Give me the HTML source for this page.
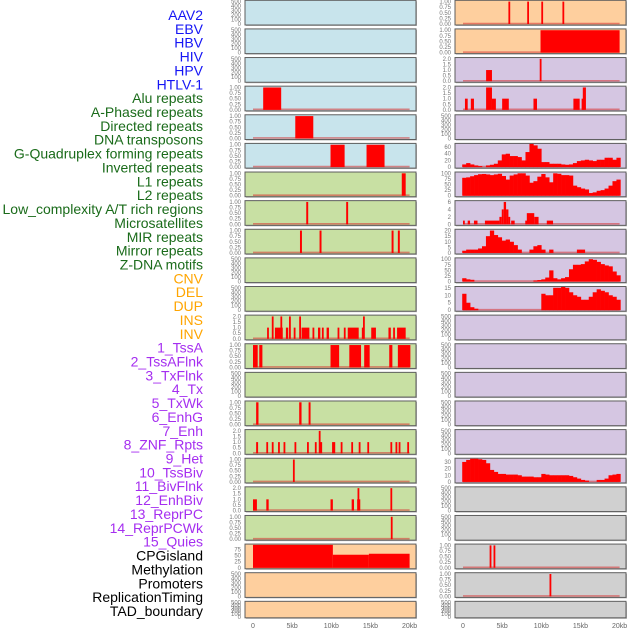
<!DOCTYPE html>
<html><head><meta charset="utf-8"><style>
html,body{margin:0;padding:0;background:#fff;}
svg{display:block;font-family:"Liberation Sans",sans-serif;}
</style></head><body>
<svg id="chart" width="630" height="630" viewBox="0 0 630 630" xmlns="http://www.w3.org/2000/svg"></svg>
<script>
// ---------- data ----------
const labelNames = ["AAV2","EBV","HBV","HIV","HPV","HTLV-1","Alu repeats","A-Phased repeats","Directed repeats","DNA transposons","G-Quadruplex forming repeats","Inverted repeats","L1 repeats","L2 repeats","Low_complexity A/T rich regions","Microsatellites","MIR repeats","Mirror repeats","Z-DNA motifs","CNV","DEL","DUP","INS","INV","1_TssA","2_TssAFlnk","3_TxFlnk","4_Tx","5_TxWk","6_EnhG","7_Enh","8_ZNF_Rpts","9_Het","10_TssBiv","11_BivFlnk","12_EnhBiv","13_ReprPC","14_ReprPCWk","15_Quies","CPGisland","Methylation","Promoters","ReplicationTiming","TAD_boundary"];
const labelGroups = ["v","v","v","v","v","v","r","r","r","r","r","r","r","r","r","r","r","r","r","s","s","s","s","s","c","c","c","c","c","c","c","c","c","c","c","c","c","c","c","o","o","o","o","o"];
const xTickKb = [0,5,10,15,20];
const xTickLabels = ["0","5kb","10kb","15kb","20kb"];
const ticks500 = [0,100,200,300,400,500];
const ticks1 = [0,0.25,0.5,0.75,1];
const ticks2 = [0,0.5,1,1.5,2];

// left column interval series [startKb, endKb, value]
const leftRow3 = [[1.3,3.6,1]];
const leftRow4 = [[5.4,7.7,1]];
const leftRow5 = [[9.9,11.7,1],[14.5,16.8,1]];
const leftRow6 = [[19.0,19.5,1]];
const leftRow7 = [[6.8,7.05,1],[11.9,12.15,1]];
const leftRow8 = [[6.0,6.25,1],[8.5,8.75,1],[17.7,17.95,1],[18.5,18.75,1]];
const leftRow11 = [[1.8,2.0,1],[2.4,2.6,2],[2.8,3.8,1],[3.5,3.7,2],[4.2,4.5,1],[4.6,4.8,2],[5.2,5.4,1],[5.9,6.1,2],[6.2,7.2,1],[7.6,7.8,1],[8.3,8.6,1],[8.8,9.0,1],[9.4,9.7,1],[10.8,11.0,1],[11.6,11.8,1],[12.1,13.5,1],[13.9,14.1,1],[14.05,14.25,2],[15.1,15.7,1],[17.3,17.6,1],[17.9,18.1,1],[18.4,19.5,1]];
const leftRow12 = [[0,0.6,1],[0.8,1.2,1],[9.9,11.0,1],[12.3,13.8,1],[14.2,14.9,1],[17.4,17.8,1],[18.5,20.1,1]];
const leftRow14 = [[0.4,0.7,1],[5.9,6.2,1],[7.1,7.35,1]];
const leftRow15 = [[0.4,0.65,1],[1.7,1.9,1],[2.4,2.6,1],[3.2,3.4,1],[3.9,4.1,1],[5.3,5.5,1],[6.9,7.1,1],[7.9,8.1,1],[8.4,8.6,2],[8.6,8.75,1],[10.1,10.5,1],[11.2,11.4,1],[12.55,12.75,1],[13.5,13.7,1],[14.6,14.8,1],[17.55,17.75,1],[18.2,18.4,1],[18.6,18.8,1],[19.7,19.9,1]];
const leftRow16 = [[5.1,5.3,1]];
const leftRow17 = [[0,0.5,1],[1.7,2.0,1],[9.9,10.2,1],[12.6,12.9,1],[13.3,13.7,1],[13.35,13.55,2],[17.55,17.75,2]];
const leftRow18 = [[17.6,17.8,1]];
const leftRow19 = [[0,10.2,93],[10.2,14.8,53],[14.8,20,57]];

// right column interval series
const rightRow0 = [[5.8,6.0,1],[8.2,8.4,1],[10.0,10.2,1],[12.7,12.9,1]];
const rightRow1 = [[9.9,20,1]];
const rightRow2 = [[2.95,3.7,1],[9.8,10.0,2]];
const rightRow3 = [[0.25,0.6,1],[1.0,1.4,1],[2.95,3.7,2],[3.7,4.2,1],[5.0,5.85,1],[9.0,9.45,1],[14.1,14.9,1],[15.15,15.35,1],[15.3,15.7,2]];
const rightRow7 = [[0,0.2,1],[0.6,0.9,1],[1.4,1.85,1],[2.8,4.65,1],[4.65,4.95,2],[4.95,5.2,4],[5.2,5.5,6],[5.5,5.8,4],[5.8,6.0,2],[6.15,6.6,1],[7.95,8.15,1],[8.15,9.1,3],[9.1,9.65,2],[10.7,11.5,1]];
const rightRow19 = [[3.4,3.6,1],[3.9,4.1,1]];
const rightRow20 = [[11.05,11.25,1]];

// right column histograms (40 bins of 0.5kb)
const gquadHist = [8,12,8,5,3,0,5,7,10,20,38,40,33,33,30,20,45,70,65,55,15,15,10,10,10,8,7,8,12,18,20,22,20,18,22,22,28,28,22,28];
const l1Hist = [80,82,87,92,96,97,95,92,95,98,88,72,90,95,100,100,90,58,65,85,97,82,60,100,98,92,92,90,45,38,32,28,12,15,22,25,32,45,65,72];
const row8Hist = [2,3,3,3,4,6,15,20,16,14,11,12,10,7,3,0,0,3,6,7,3,0,3,0,0,0,0,0,0,3,3,0,0,0,0,0,0,0,0,0];
const zdnaHist = [15,10,8,0,0,0,0,0,0,0,0,0,0,0,0,0,0,0,5,7,10,18,50,15,10,15,20,55,75,75,78,90,100,97,88,78,72,68,45,28];
const row10Hist = [11,5,2,1,0,0,0,0,0,0,0,0,0,0,0,0,0,0,0,0,11,10,10,15,15,16,15,12,10,9,7,7,9,12,14,13,12,10,9,7];
const row16Hist = [30,33,35,35,34,33,28,18,15,12,12,11,11,11,10,8,8,8,7,7,12,11,10,10,10,10,10,9,7,5,3,2,0,0,3,3,5,10,11,12];

// ---------- layout ----------
const C = {blue:"#c8e4ec",green:"#c8e0a3",orange:"#fecf9e",purple:"#d5c6e2",grey:"#d0d0d0"};
const P = (type,data,ticks,ymax,fmt)=>({type,data,ticks,ymax,fmt});
const E = ()=>P("empty",null,ticks500,500,0);
const B1 = d=>P("bars",d,ticks1,1,2);
const B2 = d=>P("bars",d,ticks2,2,1);
const leftPanels = [E(),E(),E(),B1(leftRow3),B1(leftRow4),B1(leftRow5),B1(leftRow6),B1(leftRow7),B1(leftRow8),E(),E(),B2(leftRow11),B1(leftRow12),E(),B1(leftRow14),B2(leftRow15),B1(leftRow16),B2(leftRow17),B1(leftRow18),P("bars",leftRow19,[0,25,50,75],91,0),E(),E()];
const rightPanels = [B1(rightRow0),B1(rightRow1),B2(rightRow2),B2(rightRow3),E(),P("hist",gquadHist,[0,20,40,60],67,0),P("hist",l1Hist,[0,25,50,75,100],100,0),P("bars",rightRow7,[0,2,4,6],6,0),P("hist",row8Hist,[0,5,10,15,20],20,0),P("hist",zdnaHist,[0,25,50,75,100],100,0),P("hist",row10Hist,[0,5,10,15],15,0),E(),E(),E(),E(),E(),P("hist",row16Hist,[0,10,20,30],33.6,0),E(),E(),B1(rightRow19),B1(rightRow20),E()];
const leftColors = i=> i<6?C.blue:(i<19?C.green:C.orange);
const rightColors = i=> i<2?C.orange:(i<17?C.purple:C.grey);

const NS="http://www.w3.org/2000/svg";
const svg=document.getElementById("chart");
function mk(tag,attrs,parent){const e=document.createElementNS(NS,tag);for(const k in attrs)e.setAttribute(k,attrs[k]);(parent||svg).appendChild(e);return e;}

const PX0=[245,455], PW=171, ORIGIN=[253,463], PXKB=7.83;
function xs(col,kb){return ORIGIN[col]+kb*PXKB;}
function rowTop(i){return 0.3+28.62*i;}
function rowH(i){return i===21?16.5:24.7;}

// labels
const groupColor={v:"#1515f5",r:"#1a6b1a",s:"#ffa500",c:"#a52ef0",o:"#000"};
const labG=mk("g",{});


labelNames.forEach((n,i)=>{
  const t=mk("text",{x:203,y:15+i*13.86+5,"text-anchor":"end","font-size":"14",fill:groupColor[labelGroups[i]]},labG);
  t.textContent=n;
  
  
});

function drawPanel(col,i,p,fill){
  const T=rowTop(i),H=rowH(i),x0=PX0[col];
  const g=mk("g",{});
  
  
  mk("rect",{x:x0+1,y:T+1,width:PW,height:H,fill:"#b8b8b8"},g);
  mk("rect",{x:x0,y:T,width:PW,height:H,fill:fill,stroke:"#5e5e5e","stroke-width":1},g);
  const y0=T+H-1.0, yr=H-2.3;
  const ys=v=>y0-v/p.ymax*yr;
  // ticks
  p.ticks.forEach(tv=>{
    const t=mk("text",{x:x0-4,y:ys(tv)+2,"text-anchor":"end","font-size":"6",fill:"#777"},g);
    t.textContent=p.fmt?tv.toFixed(p.fmt):String(tv);
    
    
  });
  if(p.type==="empty") return;
  mk("line",{x1:xs(col,0),x2:xs(col,20),y1:y0-0.5,y2:y0-0.5,stroke:"rgba(215,50,50,0.55)","stroke-width":1.6},g);
  if(p.type==="bars"){
    p.data.forEach(d=>{
      const xa=xs(col,d[0]), xb=Math.min(xs(col,d[1]),x0+PW-1);
      const w=Math.max(xb-xa,1.8);
      const r=mk("rect",{x:xa,y:ys(d[2]),width:w,height:y0-ys(d[2]),fill:"#ff0000"},g);
      
      
    });
  } else {
    p.data.forEach((v,k)=>{
      if(v<=0) return;
      const xa=xs(col,-0.1+k*0.505), w=0.505*PXKB+0.3;
      const top=Math.max(ys(v),T+0.5);
      const r=mk("rect",{x:xa,y:top,width:w,height:y0-top,fill:"#ff0000"},g);
      
      
    });
  }
}
leftPanels.forEach((p,i)=>drawPanel(0,i,p,leftColors(i)));
rightPanels.forEach((p,i)=>drawPanel(1,i,p,rightColors(i)));

// x axes
[0,1].forEach(col=>{
  const g=mk("g",{});
  
  
  xTickKb.forEach((kb,k)=>{
    const t=mk("text",{x:xs(col,kb),y:628,"text-anchor":"middle","font-size":"7",fill:"#666"},g);
    t.textContent=xTickLabels[k];
    
    
  });
});
</script>
</body></html>
